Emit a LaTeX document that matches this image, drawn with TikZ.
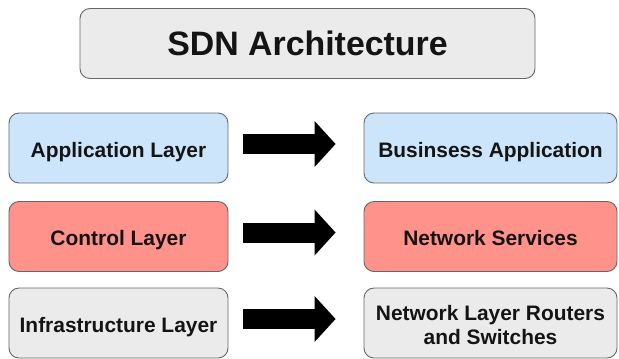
\documentclass[tikz,border=0pt]{standalone}
\usepackage{fontspec}
\setmainfont{Liberation Sans}
\usetikzlibrary{arrows.meta}
\definecolor{bluefill}{HTML}{CCE5FA}
\definecolor{redfill}{HTML}{FF928A}
\definecolor{grayfill}{HTML}{EBEBEB}
\definecolor{boxline}{HTML}{666666}
\definecolor{txt}{HTML}{141414}
\begin{document}
\begin{tikzpicture}[x=1bp,y=-1bp,
  box/.style={draw=boxline, line width=0.9bp, rounded corners=10bp, inner sep=0pt,
    text=txt, font=\bfseries\fontsize{21}{24}\selectfont, align=center},
  lbox/.style={box, minimum width=219bp, minimum height=70bp, text height=19bp, text depth=0.4bp},
  rbox/.style={box, minimum width=253bp, minimum height=70bp, text height=19bp, text depth=0.4bp},
  bigarrow/.style={line width=20bp, black,
    -{Triangle[length=21bp, width=46bp, line width=0pt]},
    shorten <=15bp, shorten >=28bp}
]
\useasboundingbox (0,0) rectangle (619,358);
\node[box, fill=grayfill, minimum width=455bp, minimum height=70bp,
  font=\bfseries\fontsize{34}{40}\selectfont] (title) at (307.5,43.5) {SDN Architecture};

\node[lbox, fill=bluefill] (a1) at (118.5,148) {Application Layer};
\node[lbox, fill=redfill]  (a2) at (118.5,236.5) {Control Layer};
\node[lbox, fill=grayfill] (a3) at (118.5,323) {Infrastructure Layer};

\node[rbox, fill=bluefill] (b1) at (490.5,148) {Businsess Application};
\node[rbox, fill=redfill]  (b2) at (490.5,236.5) {Network Services};
\node[rbox, fill=grayfill, text height=42bp, text depth=0bp] (b3) at (490.5,323) {Network Layer Routers\\and Switches};

\draw[bigarrow] ([yshift=4bp]a1.east) -- ([yshift=4bp]b1.west);
\draw[bigarrow] ([yshift=4bp]a2.east) -- ([yshift=4bp]b2.west);
\draw[bigarrow] ([yshift=4bp]a3.east) -- ([yshift=4bp]b3.west);
\end{tikzpicture}
\end{document}
